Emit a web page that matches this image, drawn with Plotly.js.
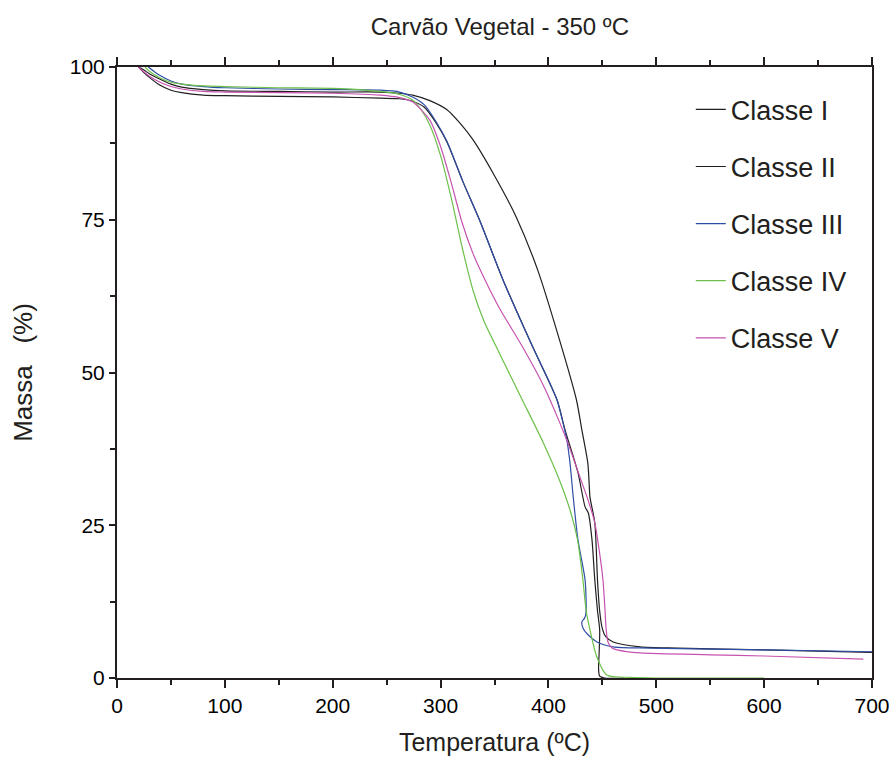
<!DOCTYPE html>
<html>
<head>
<meta charset="utf-8">
<script src="https://cdn.plot.ly/plotly-3.0.1.min.js"></script>
<style>html,body{margin:0;padding:0;background:#fff;}#chart{width:895px;height:769px;}</style>
</head>
<body>
<div id="chart"></div>
<script>
// Series names
const classes = ["Classe I", "Classe II", "Classe III", "Classe IV", "Classe V"];

// Classe I (black, late decomposition)
const tempI = [20, 25, 30, 40, 50, 60, 80, 100, 150, 200, 244, 262, 274, 290, 306, 318, 330, 350, 370, 390, 410, 426, 431, 436.5, 438, 438.5, 443, 445.5, 447.5, 449.7, 453, 460, 485, 520, 600, 700];
const massI = [100, 99.5, 98.9, 98.0, 97.2, 96.7, 96.3, 96.1, 96.0, 95.9, 95.9, 95.7, 95.4, 94.5, 93.0, 90.8, 88.1, 82.2, 75.5, 66.8, 55.5, 45.5, 40.6, 35.2, 31.0, 29.6, 25.4, 16.0, 11.0, 8.3, 6.8, 5.9, 5.1, 4.9, 4.6, 4.2];

// Classe II (black)
const tempII = [20, 25, 30, 40, 50, 60, 80, 100, 150, 200, 244, 262, 274, 285, 296, 306, 320.8, 336.5, 358, 385.4, 408, 415.4, 427.4, 434, 437, 440.4, 443, 445.5, 447.5, 447, 446.5, 447.5, 452, 470];
const massII = [100, 99.1, 98.3, 97.0, 96.2, 95.8, 95.4, 95.3, 95.2, 95.1, 94.9, 94.8, 94.4, 93.4, 90.8, 87.7, 81.2, 74.8, 65.1, 54.2, 45.5, 40.6, 33.6, 28.0, 27.0, 22.6, 16.0, 11.0, 7.9, 4.0, 1.5, 0.3, 0, 0];

// Classe III (blue)
const tempIII = [29, 35, 40, 50, 60, 80, 100, 150, 200, 244, 262, 274, 285, 296, 306, 320.8, 336.5, 358, 385.4, 401.5, 408, 417, 420, 423, 427.4, 434, 434.8, 433.5, 431, 432, 436, 445, 460, 494, 600, 700];
const massIII = [100, 99.2, 98.6, 97.7, 97.2, 96.8, 96.6, 96.4, 96.3, 96.2, 95.9, 95.1, 93.8, 91.0, 87.8, 81.2, 74.8, 65.1, 54.2, 48.2, 45.5, 39.0, 35.2, 29.6, 22.6, 16.0, 10.6, 9.8, 9.2, 8.2, 7.2, 5.9, 5.1, 4.9, 4.6, 4.3];

// Classe IV (green)
const tempIV = [26, 30, 40, 50, 60, 80, 100, 150, 200, 244, 262, 274, 282, 290, 300, 310, 320, 330, 340, 355, 375, 395, 410, 420, 427, 432, 435, 438.5, 445, 454, 476, 500, 600];
const massIV = [100, 99.3, 98.2, 97.5, 97.2, 96.9, 96.8, 96.6, 96.5, 96.0, 95.5, 94.6, 93.0, 90.5, 85.5, 78.5, 70.5, 63.5, 58.5, 53.0, 45.8, 38.6, 32.5, 27.5, 22.6, 16.0, 11.0, 7.9, 3.4, 0.5, 0.1, 0, 0];

// Classe V (magenta)
const tempV = [20, 25, 30, 40, 50, 60, 80, 100, 150, 200, 244, 262, 274, 290, 300, 310, 320, 330, 340, 355, 375, 395, 410, 420, 430, 437, 443, 447, 450.6, 452.5, 453.4, 455.2, 459, 463.6, 485, 550, 600, 692];
const massV = [100, 99.2, 98.5, 97.5, 96.8, 96.4, 96.0, 95.9, 95.8, 95.7, 95.4, 95.0, 94.3, 91.3, 87.0, 81.0, 74.5, 69.5, 65.6, 60.4, 54.5, 48.0, 42.0, 37.5, 32.5, 29.0, 25.4, 21.0, 16.0, 11.0, 8.3, 5.9, 4.9, 4.6, 4.1, 3.8, 3.6, 3.1];

// Axis ticks
const xTicks = [0, 100, 200, 300, 400, 500, 600, 700];
const yTicks = [0, 25, 50, 75, 100];

const temps = [tempI, tempII, tempIII, tempIV, tempV];
const masses = [massI, massII, massIII, massIV, massV];
const colors = ["#231f20", "#231f20", "#2f4fa6", "#6cc04a", "#c653b0"];

const FONT = "Liberation Sans, Arial, Helvetica, sans-serif";

const traces = classes.map((name, i) => ({
  type: "scatter",
  mode: "lines",
  x: temps[i],
  y: masses[i],
  name: name,
  legendgroup: "g" + i,
  line: {color: colors[i], width: 1.2, shape: "spline", smoothing: 0.7},
  hoverinfo: "x+y+name"
}));

const axisCommon = {
  showgrid: false,
  zeroline: false,
  showline: true,
  linecolor: "#231f20",
  linewidth: 2,
  ticks: "outside",
  ticklen: 8,
  tickwidth: 2,
  tickcolor: "#231f20",
  tickfont: {family: FONT, size: 21, color: "#000"}
};

const layout = {
  width: 895,
  height: 769,
  paper_bgcolor: "#fff",
  plot_bgcolor: "#fff",
  margin: {l: 117, r: 23, t: 67, b: 91},
  title: {
    text: "Carvão Vegetal - 350 ºC",
    font: {family: FONT, size: 24, color: "#231f20"},
    x: 0.5585, xanchor: "center",
    y: 0.965, yanchor: "middle"
  },
  xaxis: Object.assign({}, axisCommon, {
    range: [0, 700],
    tickvals: xTicks,
    ticktext: xTicks.map(String),
    mirror: "ticks",
    minor: {dtick: 50, ticklen: 5, tickwidth: 2, tickcolor: "#231f20", ticks: "outside"},
    title: {text: "Temperatura (ºC)", font: {family: FONT, size: 25, color: "#231f20"}, standoff: 17}
  }),
  yaxis: Object.assign({}, axisCommon, {
    range: [0, 100],
    tickvals: yTicks,
    ticktext: yTicks.map(String),
    ticklen: 6,
    mirror: true,
    minor: {dtick: 12.5, ticklen: 5, tickwidth: 2, tickcolor: "#231f20", ticks: "outside"},
    title: {text: "Massa \u00a0\u00a0(%)", font: {family: FONT, size: 26, color: "#231f20"}, standoff: 30}
  }),
  showlegend: true,
  legend: {
    x: 0.76, xanchor: "left",
    y: 0.97, yanchor: "top",
    bgcolor: "rgba(255,255,255,0)",
    borderwidth: 0,
    font: {family: FONT, size: 27, color: "#231f20"},
    tracegroupgap: 19,
    traceorder: "grouped"
  }
};

Plotly.newPlot("chart", traces, layout, {displayModeBar: false, staticPlot: true});
</script>
</body>
</html>
